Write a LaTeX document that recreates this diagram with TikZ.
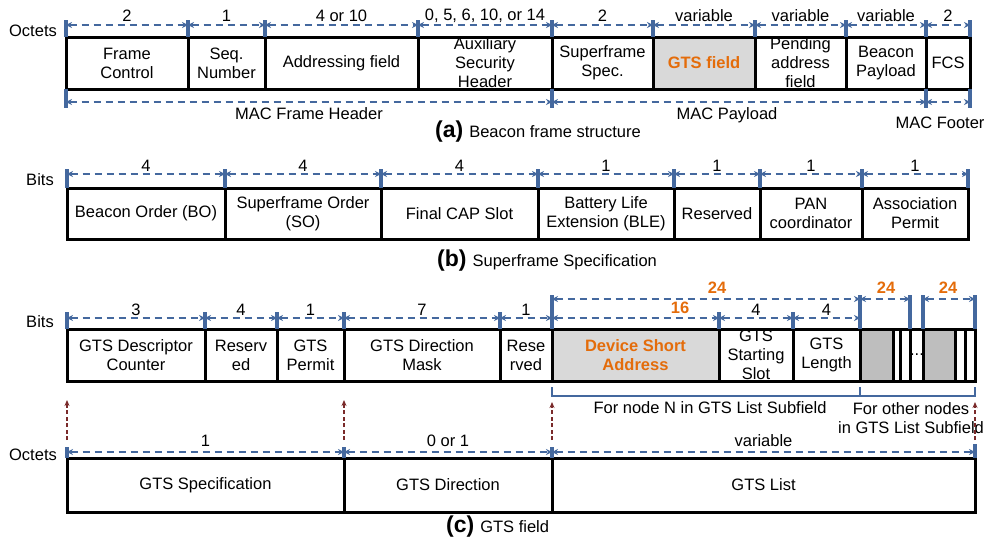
\documentclass[tikz,border=0pt]{standalone}
\usepackage{fontspec}
\setmainfont{Liberation Sans}
\usetikzlibrary{arrows.meta}
\definecolor{dimblue}{RGB}{68,104,158}
\definecolor{gtsorange}{RGB}{228,108,10}
\definecolor{lightfill}{RGB}{217,217,217}
\definecolor{darkfill}{RGB}{190,190,190}
\definecolor{linkred}{RGB}{122,42,42}

% field box: [box options]{name}{x1}{x2}{ytop}{ybottom}{text}
\newcommand{\fieldbox}[7][]{%
  \node[field,#1,minimum width={#4-#3},minimum height={#6-#5}] (#2) at ({(#3+#4)/2},{(#5+#6)/2}) {};
  \node[ftxt] (#2t) at (#2.center) {#7};}

\begin{document}
\begin{tikzpicture}[x=1pt,y=-1pt,
  field/.style={draw=black, line width=3pt, inner sep=0pt, outer sep=0pt, fill=white},
  ftxt/.style={font=\fontsize{16.5}{19}\selectfont, align=center, inner sep=0pt},
  num/.style={font=\fontsize{16.5}{19}\selectfont, inner sep=0pt},
  onum/.style={font=\fontsize{16.5}{19}\selectfont\bfseries, text=gtsorange, inner sep=0pt},
  dim/.style={draw=dimblue, line width=1.9pt, dash pattern=on 7pt off 5pt,
    {Stealth[length=6pt,width=6pt]}-{Stealth[length=6pt,width=6pt]}},
  tick/.style={draw=dimblue, line width=3.4pt},
  bracket/.style={draw=dimblue, line width=2.4pt},
  link/.style={draw=linkred, line width=1.4pt, dash pattern=on 4pt off 2.5pt,
    -{Stealth[length=6pt,width=5pt]}},
  caption/.style={font=\fontsize{16.5}{19}\selectfont, inner sep=0pt, anchor=base west}]
\useasboundingbox (0,0) rectangle (984,538);

% ---------------- (a) Beacon frame structure ----------------
\node[num] (unitA) at (33,31) {Octets};
\fieldbox{a1}{66}{188}{37}{89}{Frame\\Control}
\fieldbox{a2}{188}{265}{37}{89}{Seq.\\Number}
\fieldbox{a3}{265}{418}{37}{89}{Addressing field}
\fieldbox{a4}{418}{552}{37}{89}{Auxiliary\\Security\\Header}
\fieldbox{a5}{552}{653}{37}{89}{Superframe\\Spec.}
\fieldbox[fill=lightfill]{a6}{653}{755}{37}{89}{\color{gtsorange}\bfseries GTS field}
\fieldbox{a7}{755}{846}{37}{89}{Pending\\address\\field}
\fieldbox{a8}{846}{926}{37}{89}{Beacon\\Payload}
\fieldbox{a9}{926}{970}{37}{89}{FCS}

\foreach \n/\v in {a1/2,a2/1,a3/{4 or 10},a4/{0, 5, 6, 10, or 14},a5/2,a6/variable,a7/variable,a8/variable,a9/2}{
  \draw[tick] (\n.north west) -- ++(0,-17);
  \draw[dim] ([yshift=12pt]\n.north west) -- ([yshift=12pt]\n.north east);
  \node[num] (\n-n) at ([yshift=21pt]\n.north) {\v};
}
\draw[tick] (a9.north east) -- ++(0,-17);

\foreach \c in {a1.south west,a5.south west,a9.south west,a9.south east}
  \draw[tick] (\c) -- ++(0,19);
\draw[dim] ([yshift=-13pt]a1.south west) -- ([yshift=-13pt]a4.south east);
\draw[dim] ([yshift=-13pt]a5.south west) -- ([yshift=-13pt]a8.south east);
\draw[dim] ([yshift=-13pt]a9.south west) -- ([yshift=-13pt]a9.south east);
\node[num] (hdr) at (309,114) {MAC Frame Header};
\node[num] (pay) at (727,115) {MAC Payload};
\node[num] (ftr) at (940,123) {MAC Footer};
\node[caption] (capA) at (435,137) {{\fontsize{23}{23}\selectfont\bfseries (a)}\hspace{6pt}Beacon frame structure};

% ---------------- (b) Superframe Specification ----------------
\node[num] (unitB) at (40,180) {Bits};
\fieldbox{b1}{67}{225}{188}{239}{Beacon Order (BO)}
\fieldbox{b2}{225}{381}{188}{239}{Superframe Order\\(SO)}
\fieldbox{b3}{381}{538}{188}{239}{Final CAP Slot}
\fieldbox{b4}{538}{674}{188}{239}{Battery Life\\Extension (BLE)}
\fieldbox{b5}{674}{760}{188}{239}{Reserved}
\fieldbox{b6}{760}{862}{188}{239}{PAN\\coordinator}
\fieldbox{b7}{862}{968}{188}{239}{Association\\Permit}

\foreach \n/\v in {b1/4,b2/4,b3/4,b4/1,b5/1,b6/1,b7/1}{
  \draw[tick] (\n.north west) -- ++(0,-19);
  \draw[dim] ([yshift=14pt]\n.north west) -- ([yshift=14pt]\n.north east);
  \node[num] (\n-n) at ([yshift=22pt]\n.north) {\v};
}
\draw[tick] (b7.north east) -- ++(0,-19);
\node[caption] (capB) at (437,266) {{\fontsize{23}{23}\selectfont\bfseries (b)}\hspace{6pt}Superframe Specification};

% ---------------- (c) GTS field: GTS Specification / GTS List ----------------
\node[num] (unitC) at (40,322) {Bits};
\fieldbox{c1}{67}{205}{329}{381}{GTS Descriptor\\Counter}
\fieldbox{c2}{205}{277}{329}{381}{Reserv\\ed}
\fieldbox{c3}{277}{344}{329}{381}{GTS\\Permit}
\fieldbox{c4}{344}{500}{329}{381}{GTS Direction\\Mask}
\fieldbox{c5}{500}{552}{329}{381}{Rese\\rved}
\fieldbox[fill=lightfill]{c6}{552}{719}{329}{381}{\color{gtsorange}\bfseries Device Short\\\color{gtsorange}\bfseries Address}
\fieldbox{c7}{719}{793}{329}{381}{GTS\\Starting\\Slot}
\fieldbox{c8}{793}{860}{329}{381}{GTS\\Length}
\fieldbox{c9}{860}{975}{329}{381}{}
% further list entries
\fieldbox[fill=darkfill]{g1}{860}{893}{329}{381}{}
\fieldbox{s1}{893}{900}{329}{381}{}
\fieldbox{s2}{900}{910}{329}{381}{}
\fieldbox[fill=darkfill]{g2}{923}{955}{329}{381}{}
\fieldbox{s3}{955}{965}{329}{381}{}
\fieldbox{s4}{965}{975}{329}{381}{}
\node[num] (more) at (917,355) {...};

\foreach \n/\v in {c1/3,c2/4,c3/1,c4/7,c5/1,c7/4,c8/4}{
  \draw[tick] (\n.north west) -- ++(0,-17);
  \draw[dim] ([yshift=11pt]\n.north west) -- ([yshift=11pt]\n.north east);
  \node[num] (\n-n) at ([yshift=19pt]\n.north) {\v};
}
\draw[dim] ([yshift=11pt]c6.north west) -- ([yshift=11pt]c6.north east);
\node[onum] (c6-n) at (680,308) {16};

\coordinate (k1) at (910,329);
\coordinate (k2) at (923,329);
\foreach \c in {c6.north west,c9.north west,k1,k2,c9.north east}
  \draw[tick] (\c) -- ++(0,-34);
\draw[dim] ([yshift=30pt]c6.north west) -- ([yshift=30pt]c8.north east);
\draw[dim] ([yshift=30pt]c9.north west) -- ([yshift=30pt]k1);
\draw[dim] ([yshift=30pt]k2) -- ([yshift=30pt]c9.north east);
\node[onum] (n24a) at (717,288) {24};
\node[onum] (n24b) at (886,288) {24};
\node[onum] (n24c) at (948,288) {24};

% subfield brackets
\draw[bracket] ([yshift=-6pt]c6.south west) -- ([yshift=-15pt]c6.south west)
  -- ([yshift=-15pt]c9.south east) -- ([yshift=-6pt]c9.south east);
\draw[bracket] ([yshift=-6pt]c9.south west) -- ([yshift=-15pt]c9.south west);
\node[num] (subN) at (710,408) {For node N in GTS List Subfield};
\node[num, align=center] (subO) at (911,418) {For other nodes\\in GTS List Subfield};

% GTS field row
\node[num] (unitD) at (33,455) {Octets};
\fieldbox{d1}{67}{344}{458}{512}{GTS Specification}
\fieldbox{d2}{344}{552}{458}{512}{GTS Direction}
\fieldbox{d3}{552}{975}{458}{512}{GTS List}

\foreach \n/\v in {d1/1,d2/{0 or 1},d3/variable}{
  \draw[tick] (\n.north west) -- ++(0,-11);
  \draw[dim] ([yshift=6pt]\n.north west) -- ([yshift=6pt]\n.north east);
  \node[num] (\n-n) at ([yshift=17pt]\n.north) {\v};
}
\draw[tick] (d3.north east) -- ++(0,-14);

% links from the GTS field up to the expanded subfields
\draw[link] ([yshift=18pt]d1.north west) -- ([yshift=-19pt]c1.south west);
\draw[link] ([yshift=18pt]d2.north west) -- ([yshift=-19pt]c4.south west);
\draw[link] ([yshift=18pt]d3.north west) -- ([yshift=-21pt]c6.south west);
\draw[link] ([yshift=18pt]d3.north east) -- ([yshift=-21pt]c9.south east);

\node[caption] (capC) at (446,532) {{\fontsize{23}{23}\selectfont\bfseries (c)}\hspace{6pt}GTS field};
\end{tikzpicture}
\end{document}
